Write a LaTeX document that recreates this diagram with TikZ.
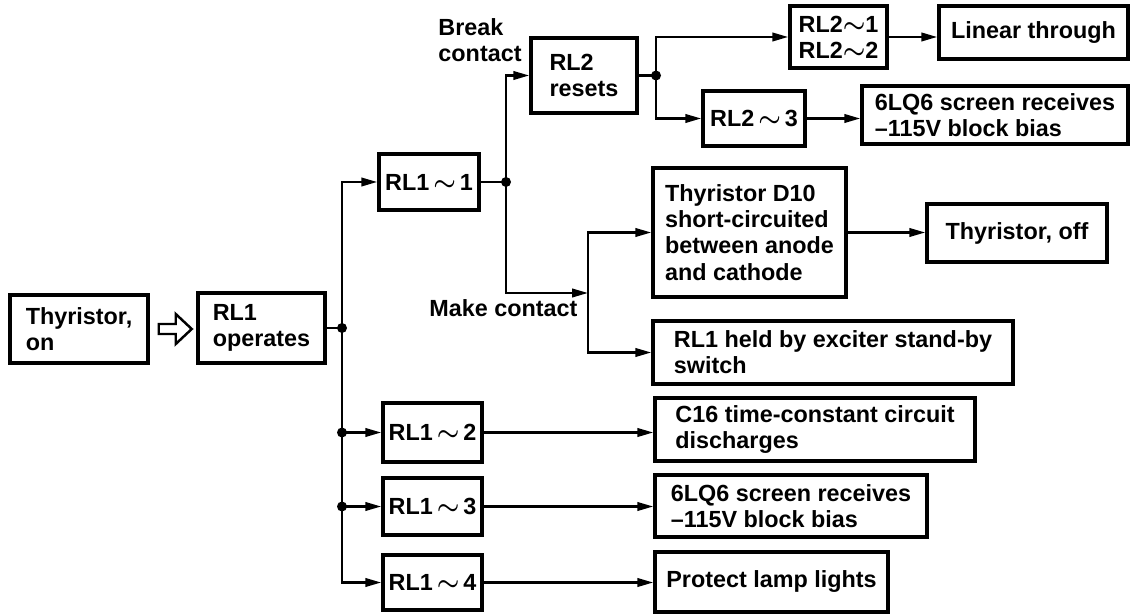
\documentclass[tikz,border=0pt]{standalone}
\usepackage{fontspec}
\setmainfont{Liberation Sans}
\usepackage{tikz}
\usetikzlibrary{calc,arrows.meta}
\newcommand{\boxfont}{\bfseries\fontsize{13.3}{14.9}\selectfont}
\newcommand{\tld}{{\boldmath$\sim$}}
\tikzset{
  box/.style={draw,line width=2pt,align=left,inner sep=0pt,font=\boxfont},
  lbl/.style={align=left,inner sep=0pt,font=\boxfont},
  ar/.style={-{Triangle[length=0.32cm,width=0.17cm]},line width=1.4pt},
  ln/.style={line width=1.4pt},
  hol/.style={line width=1.4pt,line join=miter}
}
\begin{document}
\begin{tikzpicture}[x=0.02cm,y=-0.02cm]
\useasboundingbox (0,0) rectangle (1131,614);
% left part
\node[box,minimum width=2.76cm,minimum height=1.36cm] (ton) at (79,329) {Thyristor,\\on};
\node[box,minimum width=2.54cm,minimum height=1.40cm] (rl1) at (261.5,328) {RL1\\operates};
\draw[hol] ($(ton.east)+(9,-5)$) -- ++(17,0) -- ++(0,-10) -- ++(16,15) -- ++(-16,15) -- ++(0,-10) -- ++(-17,0) -- cycle;
% RL1 contacts
\node[box,minimum width=2.00cm,minimum height=1.12cm] (r11) at (429,182) {RL1\,\tld\,1};
\node[box,minimum width=1.98cm,minimum height=1.18cm] (r12) at (432.5,432.5) {RL1\,\tld\,2};
\node[box,minimum width=1.98cm,minimum height=1.14cm] (r13) at (432.5,506.5) {RL1\,\tld\,3};
\node[box,minimum width=1.98cm,minimum height=1.10cm] (r14) at (432.5,582.5) {RL1\,\tld\,4};
% RL2
\node[box,minimum width=2.12cm,minimum height=1.50cm] (rl2) at (584,75.5) {RL2\\resets};
\node[box,minimum width=1.94cm,minimum height=1.24cm] (r21) at (838.5,37) {RL2\tld1\\RL2\tld2};
\node[box,minimum width=2.04cm,minimum height=1.10cm] (r23) at (754,118.5) {RL2\,\tld\,3};
\node[box,minimum width=3.78cm,minimum height=1.06cm] (lin) at (1033.5,32.5) {Linear through};
\node[box,minimum width=5.32cm,minimum height=1.16cm] (scr2) at (995,115) {6LQ6 screen receives\\–115V block bias};
% make contact side
\node[box,minimum width=3.86cm,minimum height=2.58cm] (d10) at (749.5,232.5) {Thyristor D10\\short-circuited\\between anode\\and cathode};
\node[box,minimum width=3.60cm,minimum height=1.16cm] (toff) at (1017,233) {Thyristor, off};
\node[box,minimum width=7.20cm,minimum height=1.26cm] (held) at (833,352.5) {RL1 held by exciter stand-by\\switch};
% results of RL1~2..4
\node[box,minimum width=6.40cm,minimum height=1.26cm] (c16) at (815,429.5) {C16 time-constant circuit\\discharges};
\node[box,minimum width=5.44cm,minimum height=1.24cm] (scr1) at (791,506) {6LQ6 screen receives\\–115V block bias};
\node[box,minimum width=4.66cm,minimum height=1.20cm] (lamp) at (771.5,582) {Protect lamp lights};
% labels
\node[lbl] (brk) at (480,40) {Break\\contact};
\node[lbl] (mak) at (503.5,308) {Make contact};
% junctions
\coordinate (j1) at (342,328);
\coordinate (j12) at (j1 |- r12.west);
\coordinate (j13) at (j1 |- r13.west);
\coordinate (j2) at (506,182);
\coordinate (j3) at (656,75.5);
\coordinate (mk) at (588,293);
% connectors
\draw[ln] (rl1.east) -- (j1);
\draw[ar] (j1) |- (r11.west);
\draw[ar] (j1) |- (r14.west);
\draw[ar] (j12) -- (r12.west);
\draw[ar] (j13) -- (r13.west);
\draw[ln] (r11.east) -- (j2);
\draw[ar] (j2) |- (rl2.west);
\draw[ar] (j2) |- (mk);
\draw[ar] (mk) |- (d10.west);
\draw[ar] (mk) |- (held.west);
\draw[ln] (rl2.east) -- (j3);
\draw[ar] (j3) |- (r21.west);
\draw[ar] (j3) |- (r23.west);
\draw[ar] (r21.east) -- (r21.east -| lin.west);
\draw[ar] (r23.east) -- (r23.east -| scr2.west);
\draw[ar] (d10.east) -- (d10.east -| toff.west);
\draw[ar] (r12.east) -- (r12.east -| c16.west);
\draw[ar] (r13.east) -- (r13.east -| scr1.west);
\draw[ar] (r14.east) -- (r14.east -| lamp.west);
\foreach \j in {j1,j12,j13,j2,j3}
  \fill (\j) circle[radius=0.1cm];
\end{tikzpicture}
\end{document}
